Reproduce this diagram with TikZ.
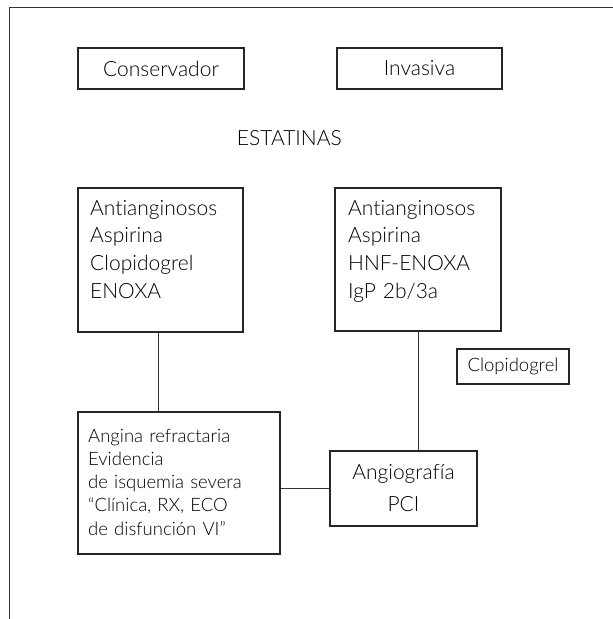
\documentclass[tikz,border=0pt]{standalone}
\usepackage{fontspec}
\setmainfont{Lato}[UprightFont=* Light, Ligatures={NoCommon,NoRequired,NoContextual}]
\begin{document}
\begin{tikzpicture}[x=1pt,y=-1pt]
\tikzset{
  frameline/.style={line width=1pt, draw=black!80},
  boxstyle/.style={draw=black!85, line width=1.1pt, inner sep=0pt},
  conn/.style={draw=black!80, line width=1pt},
  bigfont/.style={font=\fontsize{21}{27.7}\selectfont, text=black},
  smallfont/.style={font=\fontsize{18.5}{23.3}\selectfont, text=black},
  txt/.style={inner sep=0pt, align=left, anchor=base west}
}
\useasboundingbox (0,0) rectangle (613,619);
\fill[white] (0,0) rectangle (613,619);
% frame
\draw[frameline] (9.3,619) -- (9.3,7.5) -- (613,7.5);
% top boxes
\node[boxstyle, bigfont, minimum width=166pt, minimum height=41pt] (cons) at (161,68.5) {Conservador};
\node[boxstyle, bigfont, minimum width=165pt, minimum height=41pt] (inv) at (419.5,68.5) {Invasiva};
\node[bigfont, inner sep=0pt, anchor=base east] (est) at (342,145) {ESTATINAS};
% left drug box
\node[boxstyle, minimum width=165pt, minimum height=144pt] (b1) at (160.5,260) {};
\node[txt, bigfont, text width=150pt] (t1) at (90,215) {Antianginosos\\Aspirina\\Clopidogrel\\ENOXA};
% right drug box
\node[boxstyle, minimum width=166pt, minimum height=143pt] (b2) at (418,259.5) {};
\node[txt, bigfont, text width=150pt] (t2) at (348,215) {Antianginosos\\Aspirina\\HNF-ENOXA\\IgP 2b/3a};
% clopidogrel box
\node[boxstyle, smallfont, minimum width=112pt, minimum height=35pt] (clo) at (513,366.5) {Clopidogrel};
% angina box
\node[boxstyle, minimum width=202pt, minimum height=142pt] (b3) at (179,483) {};
\node[txt, smallfont, text width=190pt] (t3) at (88,442) {Angina refractaria\\Evidencia\\de isquemia severa\\“Clínica, RX, ECO\\de disfunción VI”};
% angiografia box
\node[boxstyle, font=\fontsize{21}{32}\selectfont, text=black, align=center, minimum width=147pt, minimum height=75pt] (b4) at (403.5,488.5) {Angiografía\\PCI};
% connectors
\draw[conn] ([xshift=-2.5pt]b1.south) -- ([xshift=-2.5pt]b1.south |- b3.north);
\draw[conn] (b2.south) -- (b2.south |- b4.north);
\draw[conn] (b4.west -| b3.east) -- (b4.west);
\end{tikzpicture}
\end{document}
